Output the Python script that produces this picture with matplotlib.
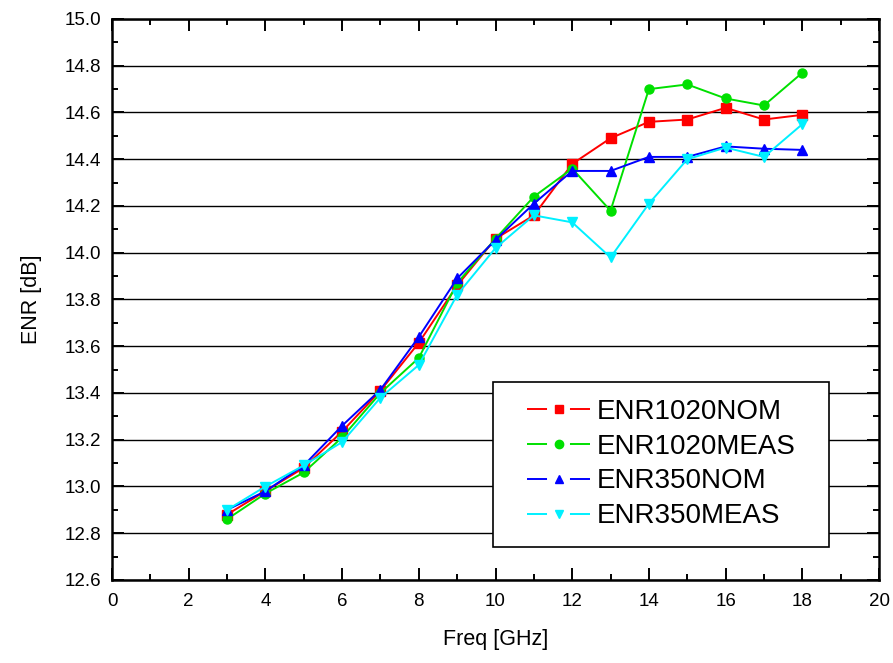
import matplotlib
matplotlib.use("Agg")
import matplotlib.pyplot as plt
from matplotlib.lines import Line2D
from matplotlib.patches import Rectangle
from matplotlib.ticker import MultipleLocator, FormatStrFormatter

plt.rcParams['font.family'] = ['Liberation Sans', 'DejaVu Sans']

freq = [3, 4, 5, 6, 7, 8, 9, 10, 11, 12, 13, 14, 15, 16, 17, 18]
enr1020_nom = [12.88, 12.98, 13.08, 13.235, 13.41, 13.615, 13.86, 14.06, 14.16, 14.38,
               14.49, 14.56, 14.57, 14.62, 14.57, 14.59]
enr1020_meas = [12.86, 12.97, 13.06, 13.21, 13.40, 13.55, 13.87, 14.06, 14.24, 14.36,
                14.18, 14.70, 14.72, 14.66, 14.63, 14.77]
enr350_nom = [12.90, 12.98, 13.09, 13.26, 13.414, 13.64, 13.89, 14.055, 14.21, 14.35,
              14.35, 14.41, 14.41, 14.455, 14.445, 14.44]
enr350_meas = [12.90, 13.00, 13.09, 13.19, 13.38, 13.52, 13.82, 14.02, 14.16, 14.13,
               13.98, 14.21, 14.40, 14.45, 14.41, 14.55]

series = [
    ("ENR1020NOM", enr1020_nom, "#ff0000", "s"),
    ("ENR1020MEAS", enr1020_meas, "#00e000", "o"),
    ("ENR350NOM", enr350_nom, "#0000ff", "^"),
    ("ENR350MEAS", enr350_meas, "#00f0ff", "v"),
]

fig = plt.figure(figsize=(8.93, 6.63), dpi=100)
ax = fig.add_axes([112 / 893, 1 - 580 / 663, 767 / 893, 561 / 663])

ax.set_xlim(0, 20)
ax.set_ylim(12.6, 15.0)
ax.xaxis.set_major_locator(MultipleLocator(2))
ax.xaxis.set_minor_locator(MultipleLocator(1))
ax.yaxis.set_major_locator(MultipleLocator(0.2))
ax.yaxis.set_minor_locator(MultipleLocator(0.1))
ax.yaxis.set_major_formatter(FormatStrFormatter('%.1f'))

ax.grid(axis='y', which='major', color='black', linewidth=1.0)
ax.set_axisbelow(True)

ax.tick_params(which='both', direction='in', top=True, right=True, width=1.4)
ax.tick_params(which='major', length=8.5)
ax.tick_params(which='minor', length=4.5)
ax.tick_params(axis='y', labelsize=13.5, pad=8)
ax.tick_params(axis='x', labelsize=13.5, pad=9)
for s in ax.spines.values():
    s.set_linewidth(1.8)

handles = []
for name, vals, col, mk in series:
    ax.plot(freq, vals, color=col, marker=mk, markersize=6.5, linewidth=1.4,
            markeredgecolor=col)
    handles.append(Line2D([], [], color=col, marker=mk, markersize=6, linewidth=1.4,
                          linestyle=(0, (10.3, 11.8))))

ax.set_xlabel("Freq [GHz]", fontsize=15.5, labelpad=14)
ax.set_ylabel("ENR [dB]", fontsize=15.5, labelpad=16)

# legend frame
ax.add_patch(Rectangle((0.497, 0.059), 0.438, 0.294, transform=ax.transAxes,
                       facecolor='white', edgecolor='black', linewidth=1.2,
                       zorder=4))
leg = ax.legend(handles, [s[0] for s in series], loc='center left',
                bbox_to_anchor=((527 - 112) / 767, (580 - 464) / 561),
                fontsize=20, frameon=False,
                handlelength=2.27, handletextpad=0.25, labelspacing=0.32,
                borderpad=0, borderaxespad=0)
leg.set_zorder(5)

fig.savefig("out.png", dpi=100)
